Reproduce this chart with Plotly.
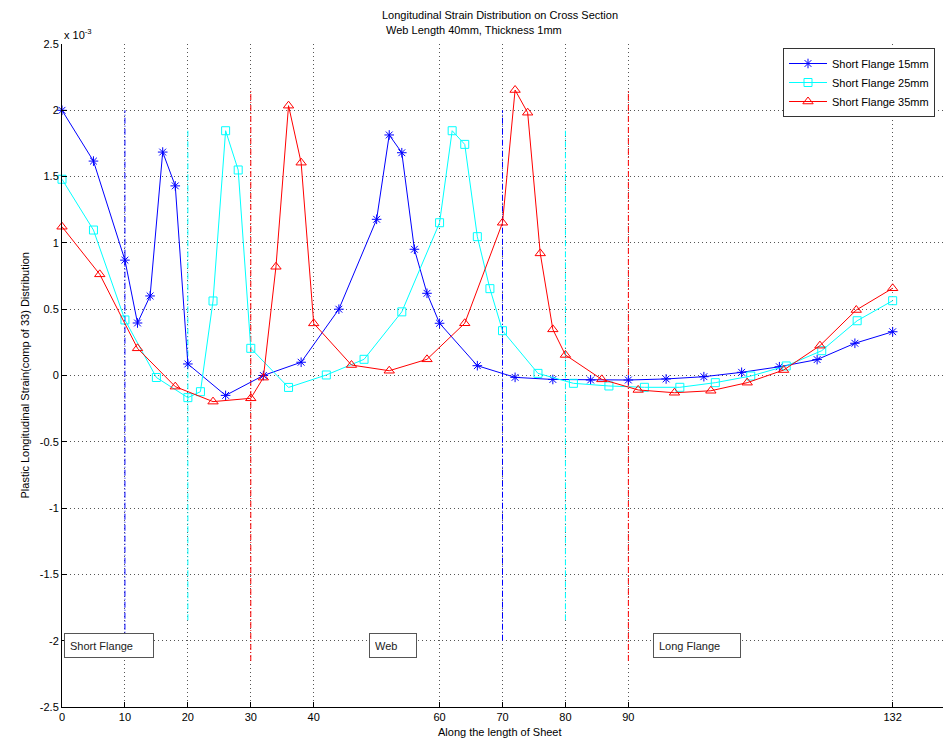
import plotly.graph_objects as go

# ---------------- data (strain in units of 1e-3) ----------------
x_15 = [0, 5, 10, 12, 14, 16, 18, 20, 26, 32, 38, 44, 50, 52, 54, 56, 58, 60,
        66, 72, 78, 84, 90, 96, 102, 108, 114, 120, 126, 132]
y_15 = [2.0, 1.617, 0.87, 0.396, 0.60, 1.685, 1.43, 0.087, -0.15, 0.0, 0.10, 0.50,
        1.178, 1.814, 1.68, 0.952, 0.62, 0.394, 0.074, -0.014, -0.03, -0.034,
        -0.034, -0.026, -0.009, 0.024, 0.066, 0.12, 0.243, 0.33]

x_25 = [0, 5, 10, 15, 20, 22, 24, 26, 28, 30, 36, 42, 48, 54, 60, 62, 64, 66, 68, 70,
        75.64, 81.27, 86.91, 92.55, 98.18, 103.82, 109.45, 115.09, 120.73, 126.36, 132]
y_25 = [1.48, 1.097, 0.419, -0.015, -0.167, -0.122, 0.562, 1.846, 1.55, 0.205,
        -0.09, 0.004, 0.122, 0.48, 1.152, 1.846, 1.743, 1.047, 0.655, 0.338,
        0.016, -0.059, -0.079, -0.089, -0.089, -0.054, -0.004, 0.072, 0.187, 0.413, 0.564]

x_35 = [0, 6, 12, 18, 24, 30, 32, 34, 36, 38, 40, 46, 52, 58, 64, 70, 72, 74, 76, 78, 80,
        85.78, 91.56, 97.33, 103.11, 108.89, 114.67, 120.44, 126.22, 132]
y_35 = [1.122, 0.763, 0.205, -0.084, -0.197, -0.172, -0.016, 0.82, 2.035, 1.605, 0.393,
        0.079, 0.036, 0.122, 0.394, 1.152, 2.153, 1.982, 0.921, 0.348, 0.155,
        -0.029, -0.109, -0.13, -0.115, -0.054, 0.041, 0.225, 0.494, 0.658]

series_names = ["Short Flange 15mm", "Short Flange 25mm", "Short Flange 35mm"]
series_x = [x_15, x_25, x_35]
series_y = [y_15, y_25, y_35]
series_colors = ["#0000FF", "#00FFFF", "#FF0000"]
series_symbols = ["asterisk-open", "square-open", "triangle-up-open"]
series_msizes = [8, 8, 9]
# section boundaries for each series (flange/web junctions)
series_bounds = [[10, 70], [20, 80], [30, 90]]

x_ticks = [0, 10, 20, 30, 40, 60, 70, 80, 90, 132]
y_ticks = [-2.5, -2, -1.5, -1, -0.5, 0, 0.5, 1, 1.5, 2, 2.5]
y_ticktext = ["-2.5", "-2", "-1.5", "-1", "-0.5", "0", "0.5", "1", "1.5", "2", "2.5"]

region_labels = ["Short Flange", "Web", "Long Flange"]
region_x = [0.32, 48.8, 93.9]
region_w = [78, 36, 76]
region_y = -1.94

FONT = "Liberation Sans Narrow, Arial Narrow, Liberation Sans, Arial, sans-serif"

fig = go.Figure()

# vertical dash-dot boundary lines, spanning +/- max of each series
for bx, ys, col in zip(series_bounds, series_y, series_colors):
    m = max(ys)
    for b in bx:
        fig.add_trace(go.Scatter(
            x=[b, b], y=[-m, m], mode="lines",
            line=dict(color=col, width=1, dash="6px,2px,1px,2px"),
            showlegend=False, hoverinfo="skip"))

for name, xs, ys, col, sym, ms in zip(series_names, series_x, series_y,
                                       series_colors, series_symbols, series_msizes):
    fig.add_trace(go.Scatter(
        x=xs, y=ys, mode="lines+markers", name=name,
        line=dict(color=col, width=1),
        marker=dict(symbol=sym, size=ms, color=col, line=dict(color=col, width=1)),
        cliponaxis=False))

annotations = [
    dict(text="Longitudinal Strain Distribution on Cross Section", xref="paper", yref="paper",
         x=(500 - 62) / 881, y=1 + (44 - 15) / 663, xanchor="center", yanchor="middle",
         showarrow=False, font=dict(size=11, family=FONT)),
    dict(text=" Web Length 40mm, Thickness 1mm", xref="paper", yref="paper",
         x=(472 - 62) / 881, y=1 + (44 - 30) / 663, xanchor="center", yanchor="middle",
         showarrow=False, font=dict(size=11, family=FONT)),
    dict(text="x 10<sup>-3</sup>", xref="paper", yref="paper",
         x=0, y=1 + (44 - 34) / 663, xanchor="left", yanchor="middle",
         showarrow=False, font=dict(size=11, family=FONT)),
    dict(text="Plastic Longitudinal Strain(comp of 33) Distribution", xref="paper", yref="paper",
         x=(24 - 62) / 881, y=0.5, xanchor="center", yanchor="middle", textangle=-90,
         showarrow=False, font=dict(size=11, family=FONT)),
    dict(text="Along the length of Sheet", xref="paper", yref="paper",
         x=(500 - 62) / 881, y=-(732 - 707) / 663, xanchor="center", yanchor="middle",
         showarrow=False, font=dict(size=11, family=FONT)),
]
for lab, rx, rw in zip(region_labels, region_x, region_w):
    annotations.append(dict(
        text=lab, x=rx, y=region_y, xref="x", yref="y", xanchor="left", yanchor="top",
        showarrow=False, align="left", valign="middle", width=rw, height=13,
        bordercolor="#555555", borderwidth=1, borderpad=5, bgcolor="white",
        font=dict(size=11, family=FONT, color="#222222")))

fig.update_layout(
    width=945, height=738,
    margin=dict(l=62, r=2, t=44, b=31),
    paper_bgcolor="white", plot_bgcolor="white",
    font=dict(family=FONT, size=11, color="black"),
    annotations=annotations,
    showlegend=True,
    legend=dict(x=(783 - 62) / 881, y=1 - (48 - 44) / 663, xanchor="left", yanchor="top",
                bordercolor="#333333", borderwidth=1, bgcolor="white",
                font=dict(size=11, family=FONT), itemwidth=38, tracegroupgap=0),
    xaxis=dict(range=[0, 140], tickmode="array", tickvals=x_ticks,
               showgrid=True, gridcolor="#555555", griddash="1px,3px", gridwidth=1,
               zeroline=False, showline=True, linecolor="black", linewidth=1,
               ticks="inside", ticklen=5, tickcolor="black",
               tickfont=dict(size=11, family=FONT)),
    yaxis=dict(range=[-2.5, 2.5], tickmode="array", tickvals=y_ticks, ticktext=y_ticktext,
               showgrid=True, gridcolor="#555555", griddash="1px,3px", gridwidth=1,
               zeroline=False, showline=True, linecolor="black", linewidth=1,
               ticks="inside", ticklen=5, tickcolor="black",
               tickfont=dict(size=11, family=FONT)),
)

fig.write_html("out.html")
